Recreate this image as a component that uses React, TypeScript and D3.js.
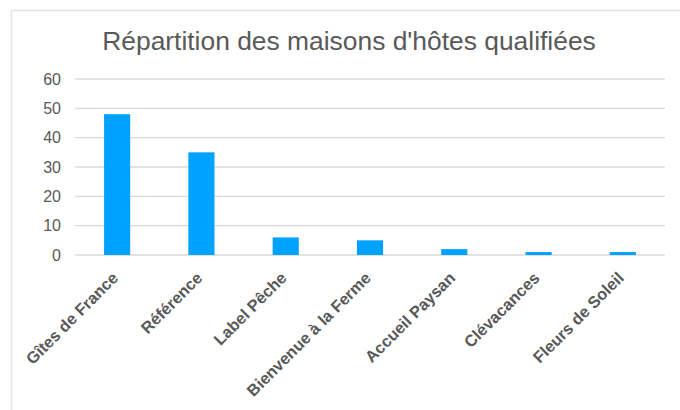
import React from "react";
import * as d3 from "d3";

const title = "Répartition des maisons d'hôtes qualifiées";
const categories = [
  "Gîtes de France",
  "Référence",
  "Label Pêche",
  "Bienvenue à la Ferme",
  "Accueil Paysan",
  "Clévacances",
  "Fleurs de Soleil",
];
const values = [48, 35, 6, 5, 2, 1, 1];
const yTicks = [0, 10, 20, 30, 40, 50, 60];

const W = 680;
const H = 410;
const FONT = "'Liberation Sans', Arial, Helvetica, sans-serif";

export default function App() {
  const x = d3
    .scaleBand<string>()
    .domain(categories)
    .range([75, 665])
    .paddingInner(0.69)
    .paddingOuter(0.345);
  const y = d3.scaleLinear().domain([0, 60]).range([255, 79]);

  return (
    <svg
      width={W}
      height={H}
      style={{ position: "absolute", left: 0, top: 0, background: "#fff" }}
    >
      <rect
        x={11.5}
        y={10.5}
        width={W + 20}
        height={H + 20}
        fill="#fff"
        stroke="#e2e2e2"
        strokeWidth={1.5}
      />
      <text
        x={349}
        y={50}
        textAnchor="middle"
        fontFamily={FONT}
        fontSize={26.4}
        fill="#595959"
      >
        {title}
      </text>
      {yTicks.map((t) => (
        <g key={t}>
          <line
            x1={75}
            x2={665}
            y1={y(t)}
            y2={y(t)}
            stroke="#d9d9d9"
            strokeWidth={1.3}
          />
          <text
            x={61}
            y={y(t)}
            dy="0.36em"
            textAnchor="end"
            fontFamily={FONT}
            fontSize={16}
            fill="#595959"
          >
            {t}
          </text>
        </g>
      ))}
      {categories.map((c, i) => (
        <rect
          key={c}
          x={x(c)}
          y={y(values[i])}
          width={x.bandwidth()}
          height={y(0) - y(values[i])}
          fill="#00A2FF"
        />
      ))}
      {categories.map((c) => {
        const cx = (x(c) as number) + x.bandwidth() / 2;
        return (
          <text
            key={c}
            transform={`translate(${cx + 2},${279}) rotate(-45)`}
            textAnchor="end"
            fontFamily={FONT}
            fontSize={16.3}
            fontWeight="bold"
            fill="#595959"
          >
            {c}
          </text>
        );
      })}
    </svg>
  );
}
